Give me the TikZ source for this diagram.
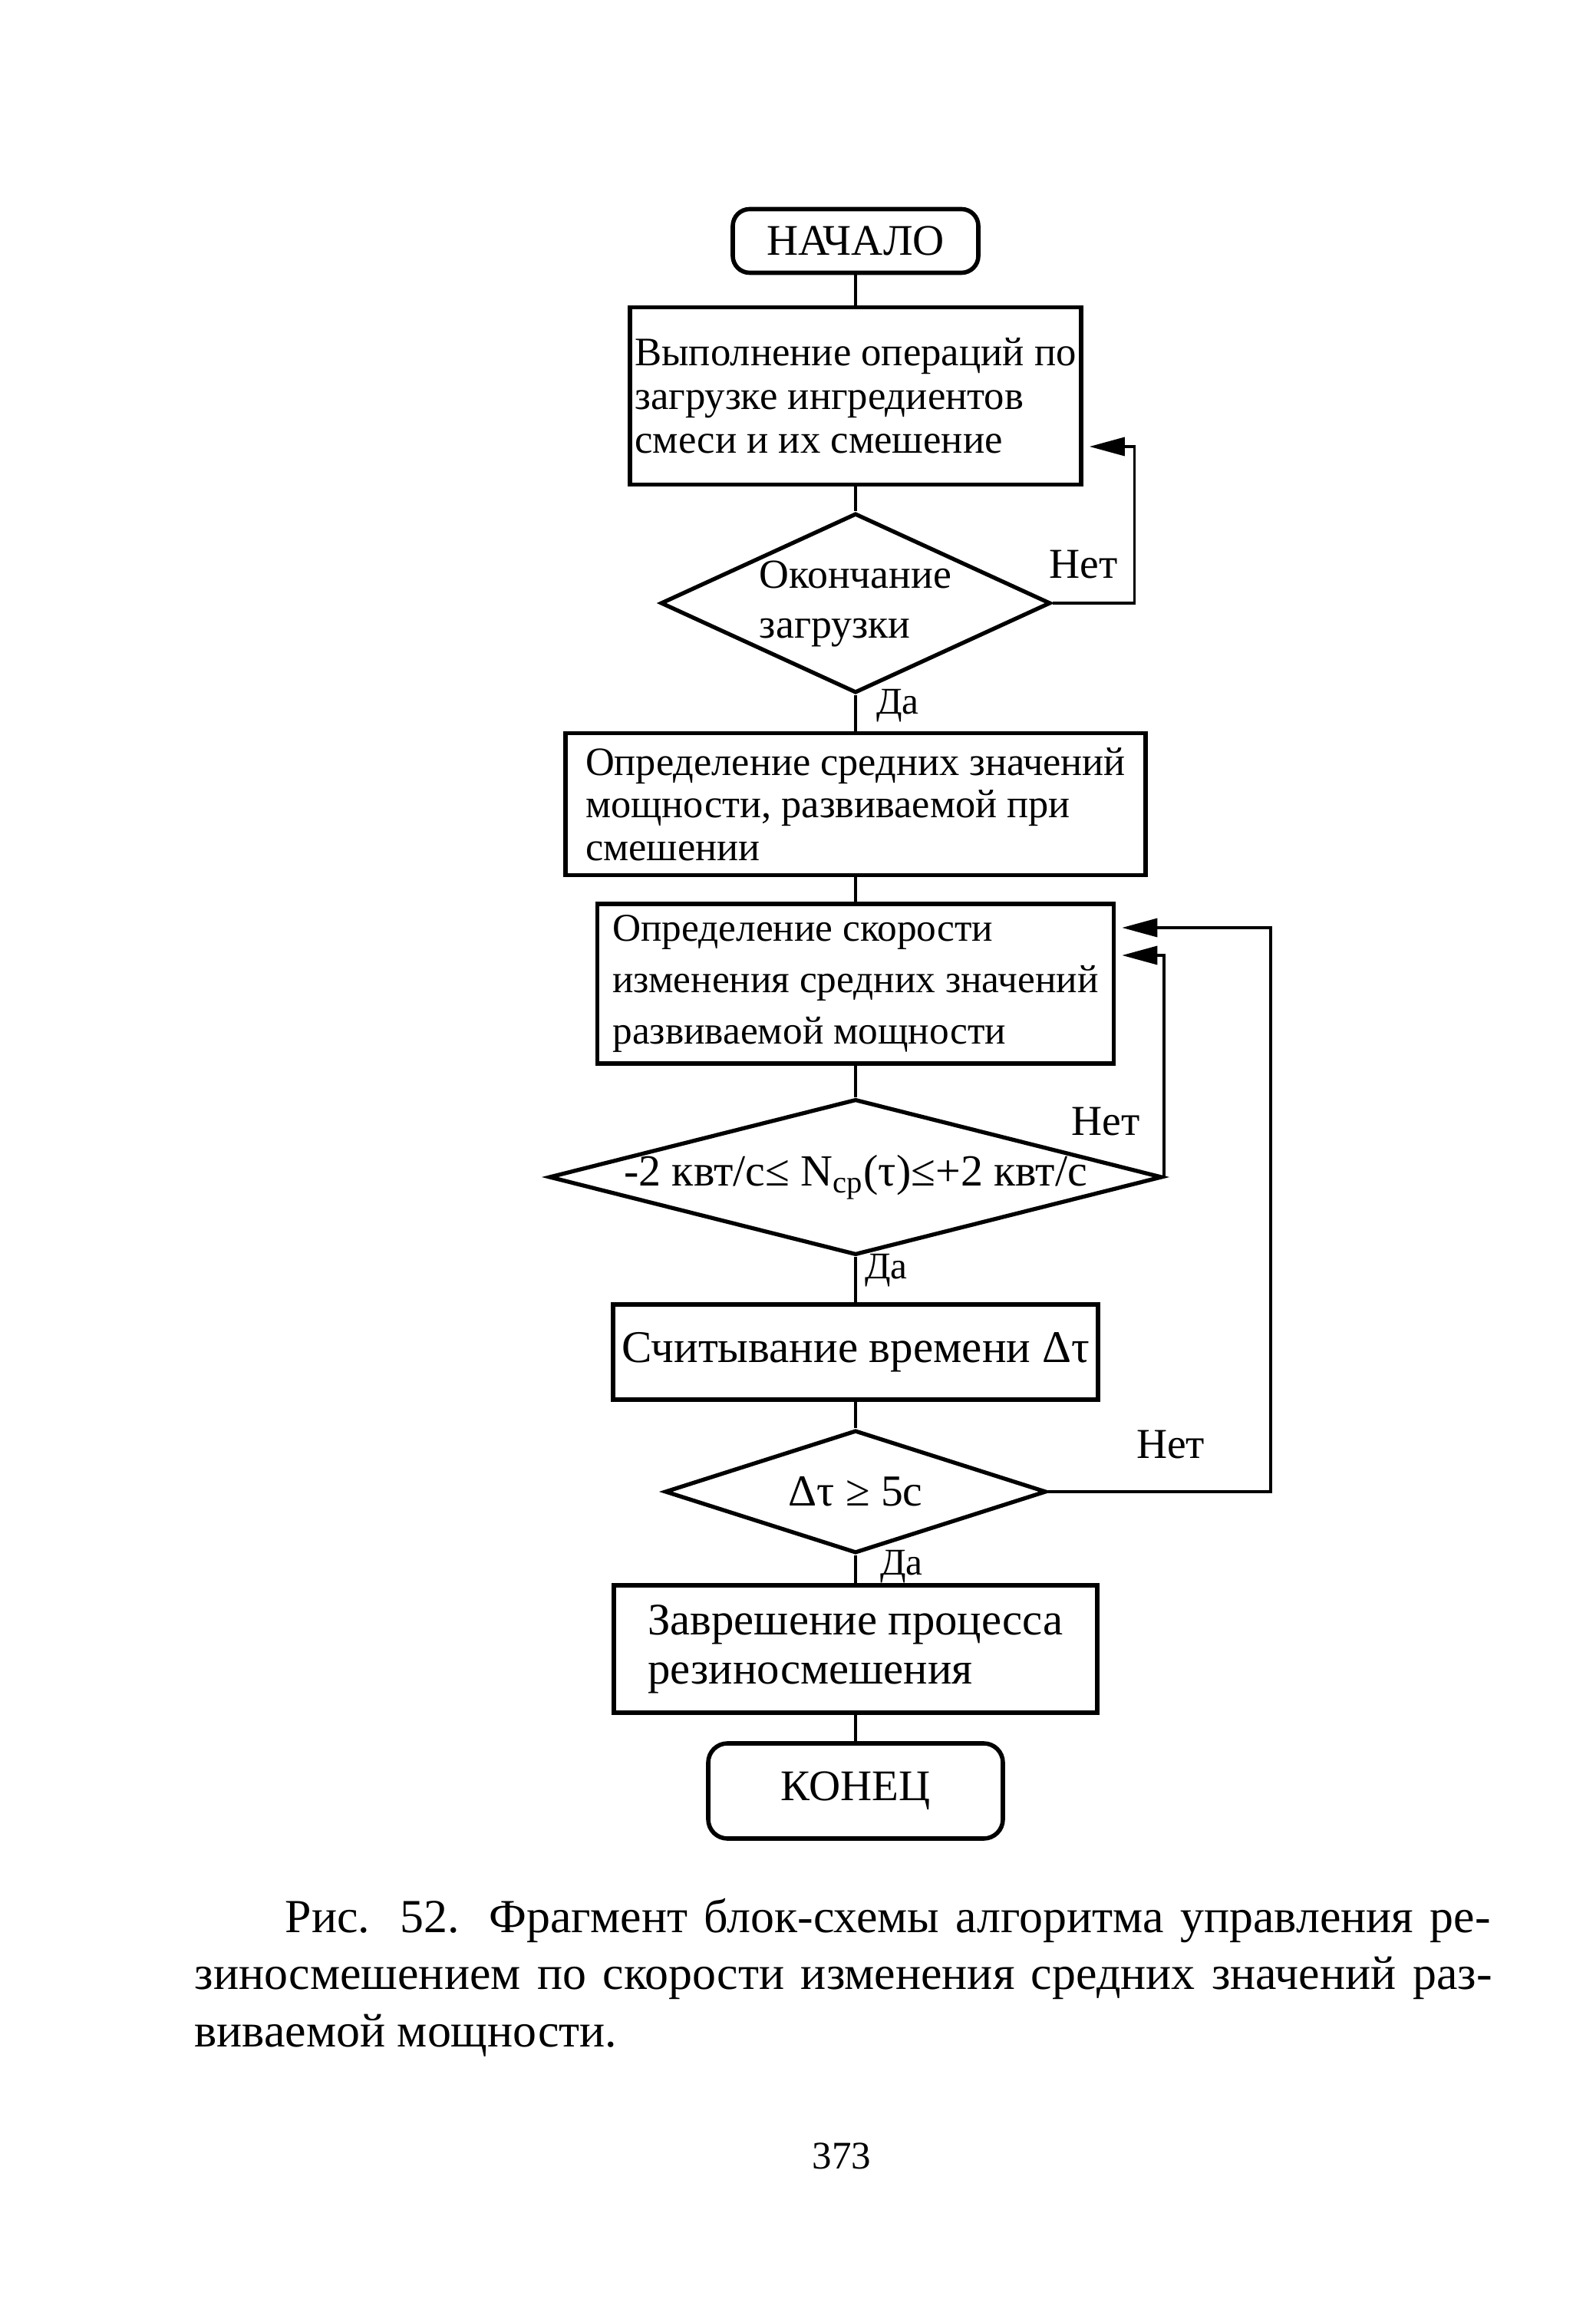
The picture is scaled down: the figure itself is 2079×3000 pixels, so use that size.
\documentclass[tikz,border=0pt]{standalone}
\usepackage{fontspec}
\setmainfont{Liberation Serif}
\usetikzlibrary{shapes.geometric, arrows.meta}
\newcommand{\flatbox}[1]{\makebox[0pt]{#1}}

\begin{document}
\begin{tikzpicture}[x=0.1mm, y=-0.1mm,
	>={Triangle[length=4.6mm, width=2.4mm]},
	block/.style={draw, rectangle, line width=1.6pt, inner sep=0pt, align=left},
	terminal/.style={draw, rectangle, rounded corners=2.2mm, line width=1.6pt, inner sep=0pt, font=\fontsize{16.2pt}{19pt}\selectfont},
	decision/.style={draw, diamond, line width=1.5pt, inner sep=0pt},
	yeslabel/.style={inner sep=0pt, font=\fontsize{14pt}{16pt}\selectfont},
	nolabel/.style={inner sep=0pt, font=\fontsize{15.8pt}{18pt}\selectfont},
	link/.style={line width=1.2pt},
	loop/.style={->, line width=1pt, shorten >=0.8mm}]
	\path[fill=white] (0,0) rectangle (2079,3000);
	
	\node[terminal, minimum width=32mm, minimum height=8.3mm] (start) at (1115,314) {НАЧАЛО};
	
	\node[block, below of=start, yshift=-10.2mm, minimum width=58.8mm, minimum height=23.1mm, font=\fontsize{15pt}{16.2pt}\selectfont] (load) {Выполнение операций по\\загрузке ингредиентов\\смеси и их смешение};
	
	\node[decision, below of=load, yshift=-17mm, minimum width=50.8mm, minimum height=23.4mm, font=\fontsize{15.3pt}{18.5pt}\selectfont] (cond) {\flatbox{\begin{tabular}{@{}l@{}}Окончание\\загрузки\end{tabular}}};
	
	\node[block, below of=cond, yshift=-16.2mm, minimum width=75.6mm, minimum height=18.5mm, font=\fontsize{14.9pt}{15.8pt}\selectfont] (mean) {Определение средних значений\\мощности, развиваемой при\\смешении};
	
	\node[block, below of=mean, yshift=-13.4mm, minimum width=67.3mm, minimum height=20.8mm, font=\fontsize{14.6pt}{19pt}\selectfont] (rate) {Определение скорости\\изменения средних значений\\развиваемой мощности};
	
	\node[decision, below of=rate, yshift=-15.2mm, minimum width=79.9mm, minimum height=20.3mm, font=\fontsize{16.5pt}{19pt}\selectfont] (range) {\flatbox{-2 квт/с≤ N\textsubscript{ср}(τ)≤+2 квт/с}};
	
	\node[block, below of=range, yshift=-12.8mm, minimum width=63.2mm, minimum height=12.4mm, font=\fontsize{16.8pt}{19pt}\selectfont] (timer) {Считывание времени Δτ};
	
	\node[decision, below of=timer, yshift=-8.2mm, minimum width=49.7mm, minimum height=16mm, font=\fontsize{16.4pt}{19pt}\selectfont] (delay) {\flatbox{Δτ ≥ 5с}};
	
	\node[block, below of=delay, yshift=-10.5mm, minimum width=63mm, minimum height=16.6mm, font=\fontsize{16.7pt}{18.2pt}\selectfont] (finish) {Заврешение процесса\\резиносмешения};
	
	\node[terminal, below of=finish, yshift=-8.5mm, minimum width=38.4mm, minimum height=12.4mm, rounded corners=2.5mm] (end) {КОНЕЦ};
	
	\draw[link] (start) -- (load);
	
	\draw[link] (load) -- (cond);
	
	\draw[link] (cond) -- node[yeslabel, pos=0.29, right=2.5mm] {Да} (mean);
	
	\draw[link] (mean) -- (rate);
	
	\draw[link] (rate) -- (range);
	
	\draw[link] (range) -- node[yeslabel, pos=0.29, right=1mm] {Да} (timer);
	
	\draw[link] (timer) -- (delay);
	
	\draw[link] (delay) -- node[yeslabel, pos=0.4, right=3mm] {Да} (finish);
	
	\draw[link] (finish) -- (end);
	
	\draw[loop] (cond.east) -- node[nolabel, pos=0.38, yshift=5mm] {Нет} ++(10.7mm,0) |- ([yshift=-6.6mm]load.east);
	
	\draw[loop] (range.east) |- node[nolabel, pos=0.125, left=3mm] {Нет} ([yshift=3.7mm]rate.east);
	
	\draw[loop] (delay.east) -- node[nolabel, pos=0.55, yshift=6.1mm] {Нет} ++(29mm,0) |- ([yshift=7.3mm]rate.east);
	
	\node[anchor=north west, inner sep=0pt, align=left, font=\fontsize{17.6pt}{21.2pt}\selectfont] (caption) at (253,2473) {\hspace*{11.8mm}\makebox[157.1mm][s]{Рис. 52. Фрагмент блок-схемы алгоритма управления ре-}\\\makebox[169.1mm][s]{зиносмешением по скорости изменения средних значений раз-}\\виваемой мощности.};
	
	\node[inner sep=0pt, font=\fontsize{14.5pt}{17pt}\selectfont] (page) at (1097,2810) {373};
\end{tikzpicture}
\end{document}
